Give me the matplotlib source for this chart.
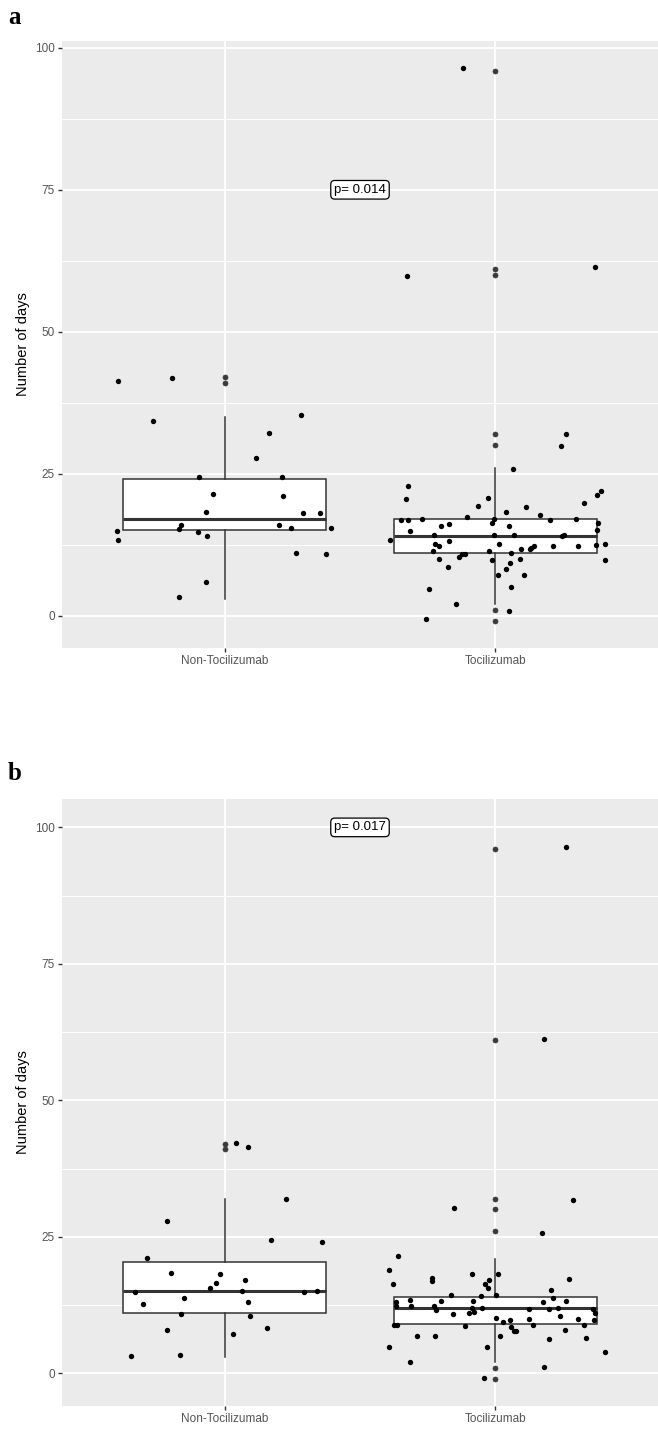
import numpy as np
import matplotlib.pyplot as plt

plt.rcParams['font.family'] = ['Liberation Sans', 'DejaVu Sans']

groups = ["Non-Tocilizumab", "Tocilizumab"]

# ---- panel a: jittered points (offset from group centre, value) ----
a_non_dx = [-0.392, -0.194, -0.265, 0.283, 0.165, 0.115, -0.093, 0.211, -0.043, 0.217,
            -0.069, 0.288, 0.354, 0.200, 0.247, 0.394, -0.159, -0.169, -0.398, -0.392,
            -0.098, -0.063, 0.262, 0.374, -0.069, -0.169]
a_non_y = [41.4, 41.9, 34.3, 35.3, 32.2, 27.8, 24.4, 24.4, 21.5, 21.0,
           18.3, 18.1, 18.1, 15.9, 15.4, 15.4, 16.0, 15.2, 14.9, 13.4,
           14.7, 14.0, 11.0, 10.8, 5.9, 3.2]

a_toc_dx = [-0.322, -0.332, 0.064, 0.262, 0.242, -0.027, -0.064, 0.114, 0.038, 0.164,
            0.327, 0.374, 0.390, -0.348, -0.322, -0.271, -0.104, 0.201, 0.298, 0.379,
            -0.317, -0.200, -0.170, -0.011, -0.004, 0.049, 0.374, -0.389, -0.225, -0.007,
            0.069, 0.244, 0.253, -0.170, -0.224, -0.210, 0.014, 0.144, 0.133, 0.212,
            0.303, 0.372, 0.404, -0.229, -0.022, 0.059, 0.094, 0.128, -0.114, -0.124,
            -0.133, -0.210, -0.012, 0.089, 0.055, 0.404, -0.174, 0.039, 0.010, 0.106,
            -0.246, 0.059, -0.144, 0.049, -0.256, -0.118, -0.327, 0.368]
a_toc_y = [22.9, 20.5, 25.9, 31.9, 29.8, 20.8, 19.3, 19.1, 18.3, 17.8,
           19.8, 21.2, 22.0, 16.8, 16.8, 17.1, 17.4, 16.8, 17.1, 16.4,
           14.9, 15.7, 16.1, 16.4, 17.1, 15.7, 15.1, 13.4, 14.2, 14.2,
           14.2, 14.1, 14.2, 13.2, 12.7, 12.3, 12.7, 12.3, 11.9, 12.3,
           12.3, 12.5, 12.7, 11.3, 11.3, 11.0, 11.7, 11.7, 10.9, 10.8,
           10.3, 10.0, 9.8, 10.0, 9.3, 9.8, 8.6, 8.3, 7.2, 7.2,
           4.7, 5.0, 2.1, 0.9, -0.6, 96.4, 59.9, 61.4]

# box summaries (q1, median, q3, lower whisker, upper whisker) and outliers
a_box = [(15, 17, 24, 3, 35), (11, 14, 17, 2, 26)]
a_out = [[42, 41], [96, 61, 60, 32, 30, 1, -1]]
a_p = "p= 0.014"
a_p_y = 75

# ---- panel b ----
b_non_dx = [0.044, 0.085, 0.227, -0.214, 0.170, 0.359, -0.286, -0.199, -0.017, 0.075,
            -0.033, -0.053, 0.064, -0.331, 0.293, 0.343, -0.148, 0.085, -0.300, -0.159,
            0.094, -0.214, 0.156, 0.033, -0.347, -0.164]
b_non_y = [42.2, 41.5, 31.9, 27.8, 24.4, 24.0, 21.1, 18.3, 18.1, 17.1,
           16.6, 15.6, 15.0, 14.8, 14.8, 15.0, 13.8, 13.1, 12.6, 10.8,
           10.5, 8.0, 8.2, 7.2, 3.1, 3.4]

b_toc_dx = [0.288, -0.153, 0.170, -0.361, -0.392, -0.378, -0.233, -0.236, -0.087, 0.010,
            -0.023, -0.039, -0.028, 0.272, 0.206, -0.163, 0.003, -0.053, 0.211, -0.200,
            -0.316, -0.083, 0.176, 0.262, -0.368, -0.311, -0.368, -0.225, -0.221, -0.087,
            -0.048, -0.081, -0.098, 0.125, 0.196, 0.232, 0.360, 0.368, -0.158, 0.238,
            0.003, 0.125, 0.055, 0.029, 0.303, 0.365, 0.140, 0.325, -0.375, -0.363,
            -0.114, 0.059, 0.069, 0.074, 0.257, -0.290, -0.224, 0.018, 0.196, 0.333,
            -0.392, -0.033, 0.404, -0.316, 0.181, -0.043, 0.262, 0.181]
b_toc_y = [31.8, 30.3, 25.7, 21.4, 18.9, 16.4, 17.4, 16.9, 18.1, 18.1,
           17.1, 16.4, 15.6, 17.3, 15.3, 14.3, 14.3, 14.1, 13.8, 13.3,
           13.4, 13.3, 13.1, 13.3, 13.1, 12.3, 12.3, 12.3, 11.5, 12.0,
           12.0, 11.3, 11.0, 11.8, 11.8, 12.0, 11.8, 11.0, 10.8, 10.5,
           10.2, 10.0, 9.7, 9.3, 10.0, 9.7, 8.9, 8.9, 8.9, 8.9,
           8.7, 8.5, 7.7, 7.7, 8.0, 6.9, 6.9, 6.9, 6.2, 6.4,
           4.9, 4.9, 3.9, 2.1, 1.1, -0.9, 96.4, 61.3]

b_box = [(11, 15, 20.3, 3, 32), (9, 12, 14, 2, 21)]
b_out = [[42, 41], [96, 61, 32, 30, 26, 1, -1]]
b_p = "p= 0.017"
b_p_y = 100

W, H = 658, 1429
fig = plt.figure(figsize=(W / 100, H / 100), dpi=100)


def make_panel(rect, ylim, boxes, outs, pts, ptext, py, letter, letter_y):
    ax = fig.add_axes(rect)
    ax.set_facecolor('#EBEBEB')
    for s in ax.spines.values():
        s.set_visible(False)

    stats = []
    for (q1, med, q3, lo, hi), fl in zip(boxes, outs):
        stats.append(dict(q1=q1, med=med, q3=q3, whislo=lo, whishi=hi, fliers=fl))
    ax.bxp(stats, positions=[1, 2], widths=0.75, showcaps=False, patch_artist=True,
           boxprops=dict(facecolor='white', edgecolor='#333333', linewidth=1.1),
           whiskerprops=dict(color='#333333', linewidth=1.1),
           medianprops=dict(color='#333333', linewidth=2.2),
           flierprops=dict(marker='o', markersize=3.6, markerfacecolor='#3A3A3A',
                           markeredgecolor='#3A3A3A', markeredgewidth=0.5),
           zorder=2)

    for i, (dx, y) in enumerate(pts):
        ax.scatter(np.array(dx) + i + 1, y, s=15, color='black', linewidths=0, zorder=3)

    ax.text(1.5, py, ptext, ha='center', va='center', fontsize=9.5, zorder=4,
            bbox=dict(boxstyle='round,pad=0.25,rounding_size=0.3', facecolor='white',
                      edgecolor='black', linewidth=0.9))

    ax.set_xlim(0.4, 2.6)
    ax.set_ylim(*ylim)
    ax.set_xticks([1, 2])
    ax.set_xticklabels(groups)
    ax.set_yticks([0, 25, 50, 75, 100])
    ax.set_yticks([12.5, 37.5, 62.5, 87.5], minor=True)
    ax.grid(which='major', color='white', linewidth=1.3)
    ax.grid(which='minor', axis='y', color='white', linewidth=0.7)
    ax.set_axisbelow(True)
    ax.tick_params(which='major', length=3, width=1, color='#333333',
                   labelsize=8.5, labelcolor='#555555', pad=2)
    ax.tick_params(which='minor', length=0)
    ax.set_ylabel("Number of days", fontsize=10.5, color='black', labelpad=4)
    fig.text(8 / W, 1 - letter_y / H, letter, fontsize=18, fontweight='bold',
             family='Liberation Serif', va='center', ha='left')
    return ax


top_a, bot_a = 41, 648
top_b, bot_b = 799, 1406
left = 62

make_panel([left / W, 1 - bot_a / H, 1 - left / W, (bot_a - top_a) / H], (-5.7, 101.2),
           a_box, a_out, [(a_non_dx, a_non_y), (a_toc_dx, a_toc_y)], a_p, a_p_y, 'a', 17)
make_panel([left / W, 1 - bot_b / H, 1 - left / W, (bot_b - top_b) / H], (-6.0, 105.2),
           b_box, b_out, [(b_non_dx, b_non_y), (b_toc_dx, b_toc_y)], b_p, b_p_y, 'b', 774)

fig.savefig('out.png', dpi=100)
